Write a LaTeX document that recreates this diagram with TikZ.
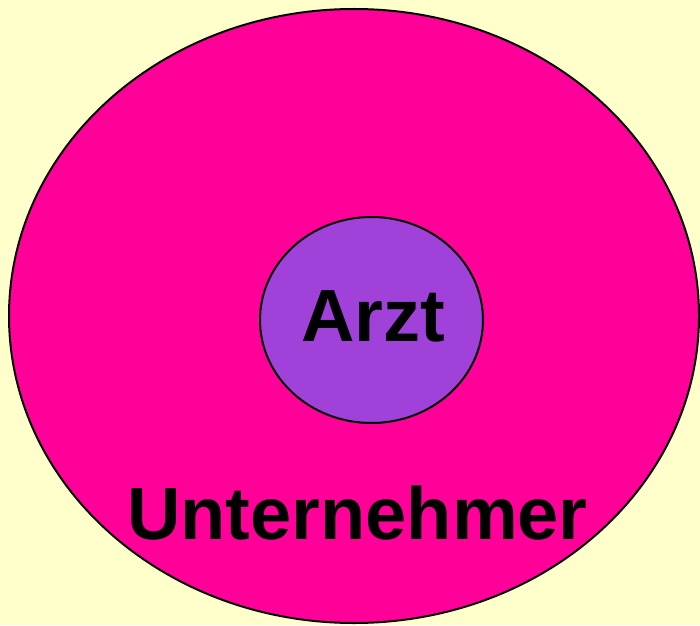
\documentclass[tikz,border=0pt]{standalone}
\usepackage{fontspec}
\setmainfont{Liberation Sans}
\definecolor{bgyellow}{HTML}{FFFFCC}
\definecolor{outerpink}{HTML}{FF0099}
\definecolor{innerpurple}{HTML}{A041DA}
\begin{document}
\begin{tikzpicture}[x=1pt,y=1pt,
  blob/.style={draw=black,line width=2pt},
  bigword/.style={font=\fontsize{74}{80}\selectfont\bfseries,inner sep=0pt,anchor=base}]
\fill[bgyellow] (0,0) rectangle (700,625);
\useasboundingbox (0,0) rectangle (700,625);
\draw[blob,fill=outerpink] (354,309) ellipse [x radius=345, y radius=307];
\draw[blob,fill=innerpurple] (371.5,305) ellipse [x radius=111.5, y radius=103];
\node[bigword] (arzt) at (373.5,284) {Arzt};
\node[bigword] (unt) at (357.5,86) {Unternehmer};
\end{tikzpicture}
\end{document}
